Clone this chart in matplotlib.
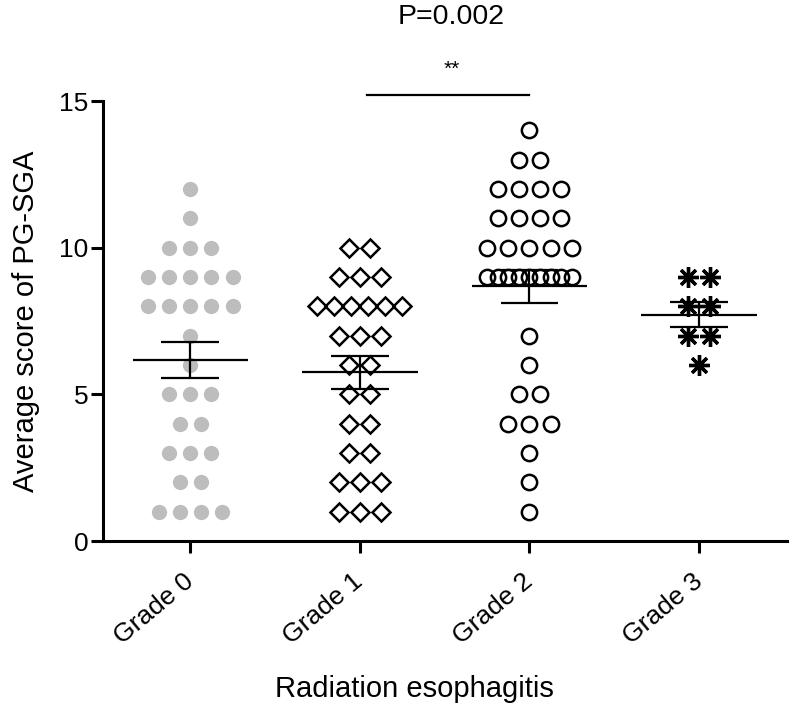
import numpy as np
import matplotlib
matplotlib.use("Agg")
import matplotlib.pyplot as plt

plt.rcParams['font.family'] = ['Liberation Sans', 'DejaVu Sans']

# PG-SGA scores per radiation esophagitis grade
grade0 = [12, 11, 10, 10, 10, 9, 9, 9, 9, 9, 8, 8, 8, 8, 8, 7, 6,
          5, 5, 5, 4, 4, 3, 3, 3, 2, 2, 1, 1, 1, 1]
grade1 = [10, 10, 9, 9, 9, 8, 8, 8, 8, 8, 8, 7, 7, 7, 6, 6, 5, 5,
          4, 4, 3, 3, 2, 2, 2, 1, 1, 1]
grade2 = [14, 13, 13, 12, 12, 12, 12, 11, 11, 11, 11, 10, 10, 10, 10, 10,
          9, 9, 9, 9, 9, 9, 9, 9, 9, 7, 6, 5, 5, 4, 4, 4, 3, 2, 1]
grade3 = [9, 9, 8, 8, 7, 7, 6]

groups = [grade0, grade1, grade2, grade3]
tick_labels = ["Grade 0", "Grade 1", "Grade 2", "Grade 3"]
p_text = "P=0.002"
sig_text = "**"

styles = [
    dict(marker="o", ms=11, mfc="#bdbdbd", mec="#bdbdbd", mew=0),
    dict(marker="D", ms=9, mfc="none", mec="black", mew=1.8),
    dict(marker="o", ms=11, mfc="none", mec="black", mew=1.8),
    dict(marker=(8, 2, 0), ms=15, mfc="black", mec="black", mew=2.4),
]


def swarm_x(values, center, step=0.125, max_width=0.5):
    """ spread equal values side by side around the group center """
    values = np.asarray(values)
    xs = np.zeros(len(values))
    for v in np.unique(values):
        idx = np.where(values == v)[0]
        n = len(idx)
        s = step if n < 2 else min(step, max_width / (n - 1))
        xs[idx] = center + (np.arange(n) - (n - 1) / 2) * s
    return xs


fig = plt.figure(figsize=(7.92, 7.04), dpi=100)
ax = fig.add_axes([0.130, 0.2315, 0.864, 0.625])

for i, vals in enumerate(groups):
    xs = swarm_x(vals, i)
    ax.plot(xs, vals, linestyle="none", clip_on=False, zorder=3, **styles[i])
    arr = np.asarray(vals, dtype=float)
    m = arr.mean()
    sem = arr.std(ddof=1) / np.sqrt(len(arr))
    ax.hlines(m, i - 0.34, i + 0.34, color="black", lw=1.6, zorder=4)
    ax.hlines([m - sem, m + sem], i - 0.17, i + 0.17, color="black", lw=1.6, zorder=4)
    ax.vlines(i, m - sem, m + sem, color="black", lw=1.6, zorder=4)

# significance bar between grade 1 and grade 2
ax.plot([1.04, 2.0], [15.2, 15.2], color="black", lw=1.6, clip_on=False)
ax.text(1.54, 15.9, sig_text, ha="center", va="baseline", fontsize=15)
ax.text(1.54, 17.85, p_text, ha="center", va="center", fontsize=20.5)

ax.set_xlim(-0.515, 3.52)
ax.set_ylim(0, 15)
ax.set_yticks([0, 5, 10, 15])
ax.set_xticks(range(4))
ax.set_xticklabels(tick_labels, rotation=40, ha="right", va="center",
                   rotation_mode="anchor")
ax.tick_params(axis="both", direction="out", width=2.2, length=8.5, labelsize=19)
ax.tick_params(axis="y", pad=2)
ax.tick_params(axis="x", pad=18.5)

for side in ["top", "right"]:
    ax.spines[side].set_visible(False)
for side in ["left", "bottom"]:
    ax.spines[side].set_linewidth(2.2)

ax.set_ylabel("Average score of PG-SGA", fontsize=21, labelpad=14)
ax.set_xlabel("Radiation esophagitis", fontsize=21)
ax.xaxis.set_label_coords(0.455, -0.305)

fig.savefig("out.png", dpi=100)
